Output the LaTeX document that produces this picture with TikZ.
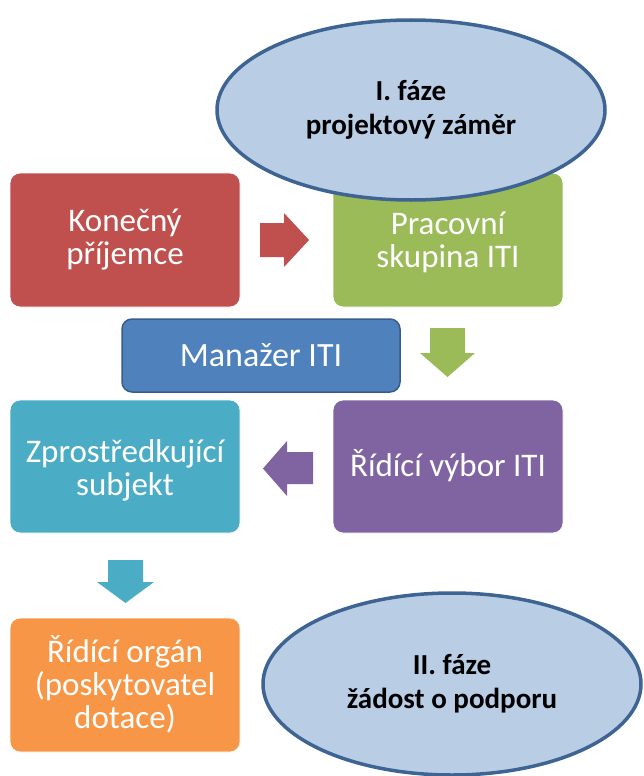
\documentclass[tikz,border=0pt]{standalone}
\usepackage{fontspec}
\setmainfont{Carlito}
\usetikzlibrary{shapes.geometric}
\definecolor{cred}{HTML}{C0504D}
\definecolor{cgreen}{HTML}{9BBB59}
\definecolor{cblue}{HTML}{4F81BD}
\definecolor{cblueb}{HTML}{385D8A}
\definecolor{cteal}{HTML}{4BACC6}
\definecolor{cpurple}{HTML}{8064A2}
\definecolor{corange}{HTML}{F79646}
\definecolor{ellfill}{HTML}{B9CDE5}
\definecolor{ellline}{HTML}{3E6494}
\begin{document}
\begin{tikzpicture}[x=1pt,y=-1pt,
  box/.style={draw=white,line width=0.8pt,rounded corners=10pt},
  boxtext/.style={text=white,align=center,font=\fontsize{33}{33}\selectfont},
  phase/.style={ellipse,draw=ellline,line width=3.5pt,fill=ellfill,inner sep=0pt,
    minimum width=#1,align=center,font=\fontsize{29}{34}\selectfont\bfseries},
]
\useasboundingbox[fill=white] (0,0) rectangle (644,776);
% boxes
\fill[cred,box] (10,173) rectangle (240,307);
\node[boxtext] (kp) at (125,240) {Konečný\\příjemce};
\fill[cgreen,box] (333,173) rectangle (563,307);
\node[boxtext] (ps) at (448,242) {Pracovní\\skupina ITI};
\draw[fill=cblue,draw=cblueb,line width=1.5pt,rounded corners=10pt] (122,319) rectangle (400,392);
\node[text=white,font=\fontsize{34}{36}\selectfont] (mi) at (261,355) {Manažer ITI};
\fill[cteal,box] (10,400) rectangle (240,533);
\node[boxtext] (zs) at (125,470) {Zprostředkující\\subjekt};
\fill[cpurple,box] (333,400) rectangle (563,533);
\node[boxtext] (rv) at (448,466) {Řídící výbor ITI};
\fill[corange,box] (10,618) rectangle (240,752);
\node[boxtext] (ro) at (125,684) {Řídící orgán\\(poskytovatel\\dotace)};
% block arrows
\fill[cred] (260,223) -- (284,223) -- (284,213) -- (309,240) -- (284,267) -- (284,257) -- (260,257) -- cycle;
\fill[cgreen] (430,328) -- (465,328) -- (465,353) -- (475,353) -- (447.5,377) -- (420,353) -- (430,353) -- cycle;
\fill[cpurple] (313,452) -- (287,452) -- (287,441) -- (263,468.5) -- (287,496) -- (287,484) -- (313,484) -- cycle;
\fill[cteal] (108,560) -- (143,560) -- (143,582) -- (154,582) -- (125.5,603) -- (97,582) -- (108,582) -- cycle;
% phases
\node[phase=388pt,minimum height=180pt] (f1) at (411,110) {I. fáze\\projektový záměr};
\node[phase=378pt,minimum height=182pt] (f2) at (452,684) {II. fáze\\žádost o podporu};
\end{tikzpicture}
\end{document}
